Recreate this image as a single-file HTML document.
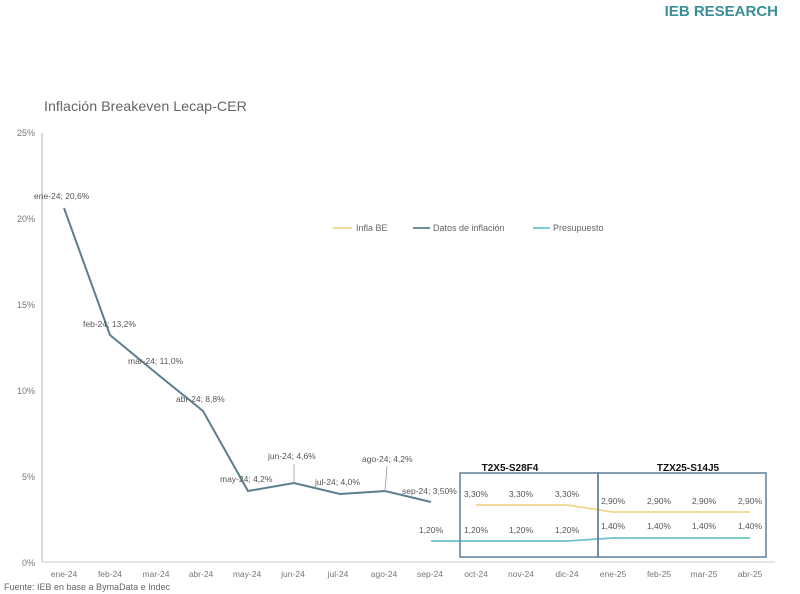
<!DOCTYPE html>
<html><head><meta charset="utf-8"><style>
body{margin:0;background:#fff;}
svg{display:block;font-family:"Liberation Sans",sans-serif;}
</style></head><body>
<svg width="800" height="594" viewBox="0 0 800 594" xmlns="http://www.w3.org/2000/svg">
<rect width="800" height="594" fill="#fff"/>
<text x="778" y="16" text-anchor="end" font-size="15" font-weight="bold" fill="#3a8e99">IEB RESEARCH</text>
<text x="44" y="111" font-size="14" fill="#666" textLength="203" lengthAdjust="spacingAndGlyphs">Inflación Breakeven Lecap-CER</text>
<g font-size="9" fill="#777" text-anchor="end">
<text x="35" y="136">25%</text><text x="35" y="222">20%</text><text x="35" y="308">15%</text>
<text x="35" y="394">10%</text><text x="35" y="480">5%</text><text x="35" y="566">0%</text>
</g>
<line x1="42" y1="133" x2="42" y2="562" stroke="#ccc" stroke-width="1.5"/>
<line x1="42" y1="562" x2="775" y2="562" stroke="#ddd" stroke-width="1.5"/>
<g font-size="8.5" fill="#777" text-anchor="middle">
<text x="64" y="577">ene-24</text><text x="110" y="577">feb-24</text><text x="156" y="577">mar-24</text><text x="201" y="577">abr-24</text><text x="247" y="577">may-24</text><text x="293" y="577">jun-24</text><text x="338" y="577">jul-24</text><text x="384" y="577">ago-24</text><text x="430" y="577">sep-24</text><text x="476" y="577">oct-24</text><text x="521" y="577">nov-24</text><text x="567" y="577">dic-24</text><text x="613" y="577">ene-25</text><text x="659" y="577">feb-25</text><text x="704" y="577">mar-25</text><text x="750" y="577">abr-25</text>
</g>
<text x="4" y="590" font-size="9" fill="#666">Fuente: IEB en base a BymaData e Indec</text>
<polyline points="64,208 110,335 156,373 203,411 248,491 294,483 340,494 385,491 431,502" fill="none" stroke="#5b7f8e" stroke-width="2"/>
<line x1="294" y1="483" x2="294" y2="464" stroke="#999" stroke-width="0.8"/>
<line x1="385" y1="491" x2="387" y2="466" stroke="#999" stroke-width="0.8"/>
<g font-size="8.5" fill="#555">
<text x="34" y="199">ene-24; 20,6%</text>
<text x="83" y="327">feb-24; 13,2%</text>
<text x="128" y="364">mar-24; 11,0%</text>
<text x="176" y="402">abr-24; 8,8%</text>
<text x="220" y="482">may-24; 4,2%</text>
<text x="268" y="459">jun-24; 4,6%</text>
<text x="315" y="485">jul-24; 4,0%</text>
<text x="362" y="462">ago-24; 4,2%</text>
<text x="402" y="494">sep-24; 3,50%</text>
</g>
<polyline points="476,505 567,505 613,512 750,512" fill="none" stroke="#f2d58a" stroke-width="1.8"/>
<polyline points="431,541 567,541 613,538 750,538" fill="none" stroke="#6fc3c8" stroke-width="1.8"/>
<rect x="460" y="473" width="138" height="84" fill="none" stroke="#5d7f9c" stroke-width="1.5"/>
<rect x="598" y="473" width="168" height="84" fill="none" stroke="#5d7f9c" stroke-width="1.5"/>
<g font-size="10" font-weight="bold" fill="#111" text-anchor="middle">
<text x="510" y="471">T2X5-S28F4</text><text x="688" y="471">TZX25-S14J5</text>
</g>
<g font-size="8.5" fill="#555" text-anchor="middle">
<text x="476" y="497">3,30%</text><text x="521" y="497">3,30%</text><text x="567" y="497">3,30%</text>
<text x="613" y="504">2,90%</text><text x="659" y="504">2,90%</text><text x="704" y="504">2,90%</text><text x="750" y="504">2,90%</text>
<text x="431" y="533">1,20%</text><text x="476" y="533">1,20%</text><text x="521" y="533">1,20%</text><text x="567" y="533">1,20%</text>
<text x="613" y="529">1,40%</text><text x="659" y="529">1,40%</text><text x="704" y="529">1,40%</text><text x="750" y="529">1,40%</text>
</g>
<g font-size="9" fill="#666">
<line x1="333" y1="228" x2="352" y2="228" stroke="#f2d58a" stroke-width="1.8"/><text x="356" y="231">Infla BE</text>
<line x1="413" y1="228" x2="430" y2="228" stroke="#5b7f8e" stroke-width="1.8"/><text x="433" y="231">Datos de inflación</text>
<line x1="533" y1="228" x2="550" y2="228" stroke="#6fc3c8" stroke-width="1.8"/><text x="553" y="231">Presupuesto</text>
</g>
</svg>
</body></html>
